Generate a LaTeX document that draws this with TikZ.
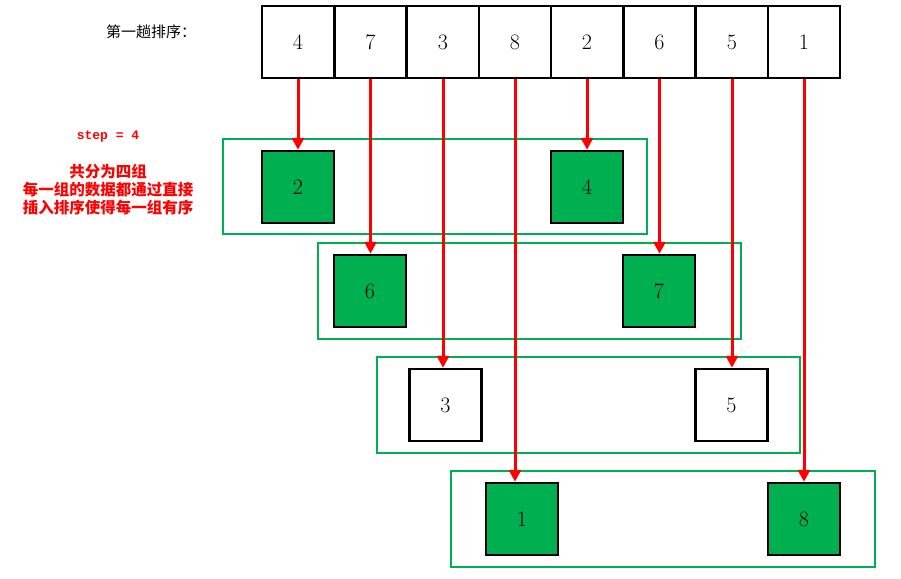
\documentclass[tikz,border=0pt]{standalone}
\usepackage{fontspec}
\newfontfamily\cjk{Noto Sans CJK SC}
\newfontfamily\monof{Liberation Mono}
\usetikzlibrary{arrows.meta}
\definecolor{okgreen}{HTML}{00B050}
\begin{document}
\begin{tikzpicture}[x=1pt,y=-1pt,
  cell/.style={draw=black, line width=2.5pt, minimum width=72.3pt, minimum height=72pt, inner sep=0pt, font=\fontsize{22}{22}\selectfont},
  gcell/.style={cell, minimum width=72pt, fill=okgreen},
  wcell/.style={cell, minimum width=72pt, fill=white},
  grp/.style={draw=okgreen, line width=2.5pt, inner sep=0pt},
  arr/.style={draw=red, line width=3pt, -{Triangle[length=12pt,width=12pt]}},
]
\useasboundingbox (0,0) rectangle (901,578);
% top row
\node[cell] (t1) at (298,42) {4};
\node[cell] (t2) at (370.5,42) {7};
\node[cell] (t3) at (443,42) {3};
\node[cell] (t4) at (515,42) {8};
\node[cell] (t5) at (587,42) {2};
\node[cell] (t6) at (659.5,42) {6};
\node[cell] (t7) at (732,42) {5};
\node[cell] (t8) at (804,42) {1};
% group frames
\node[grp, minimum width=424pt, minimum height=95pt] (g1) at (435,186.5) {};
\node[grp, minimum width=423pt, minimum height=96pt] (g2) at (529.5,291) {};
\node[grp, minimum width=423pt, minimum height=96pt] (g3) at (588.5,405) {};
\node[grp, minimum width=424pt, minimum height=96pt] (g4) at (663,519) {};
% group boxes
\node[gcell] (b2) at (298,187) {2};
\node[gcell] (b4) at (587,187) {4};
\node[gcell] (b6) at (370,291) {6};
\node[gcell] (b7) at (659,291) {7};
\node[wcell] (b3) at (445.5,405) {3};
\node[wcell] (b5) at (731.5,405) {5};
\node[gcell] (b1) at (522,519) {1};
\node[gcell] (b8) at (804,519) {8};
% arrows
\draw[arr] (t1.south) -- (t1.south |- b2.north);
\draw[arr] (t2.south) -- (t2.south |- b6.north);
\draw[arr] (t3.south) -- (t3.south |- b3.north);
\draw[arr] (t4.south) -- (t4.south |- b1.north);
\draw[arr] (t5.south) -- (t5.south |- b4.north);
\draw[arr] (t6.south) -- (t6.south |- b7.north);
\draw[arr] (t7.south) -- (t7.south |- b5.north);
\draw[arr] (t8.south) -- (t8.south |- b8.north);
% texts
\node[font=\cjk\fontsize{15}{15}\selectfont] (title) at (151,32) {第一趟排序：};
\node[text=red, font=\monof\bfseries\fontsize{13}{13}\selectfont] (step) at (108,137) {step = 4};
\node[text=red, align=center, font=\cjk\bfseries\fontsize{15.5}{18}\selectfont] (desc) at (108,190) {共分为四组\\每一组的数据都通过直接\\插入排序使得每一组有序};
\end{tikzpicture}
\end{document}
